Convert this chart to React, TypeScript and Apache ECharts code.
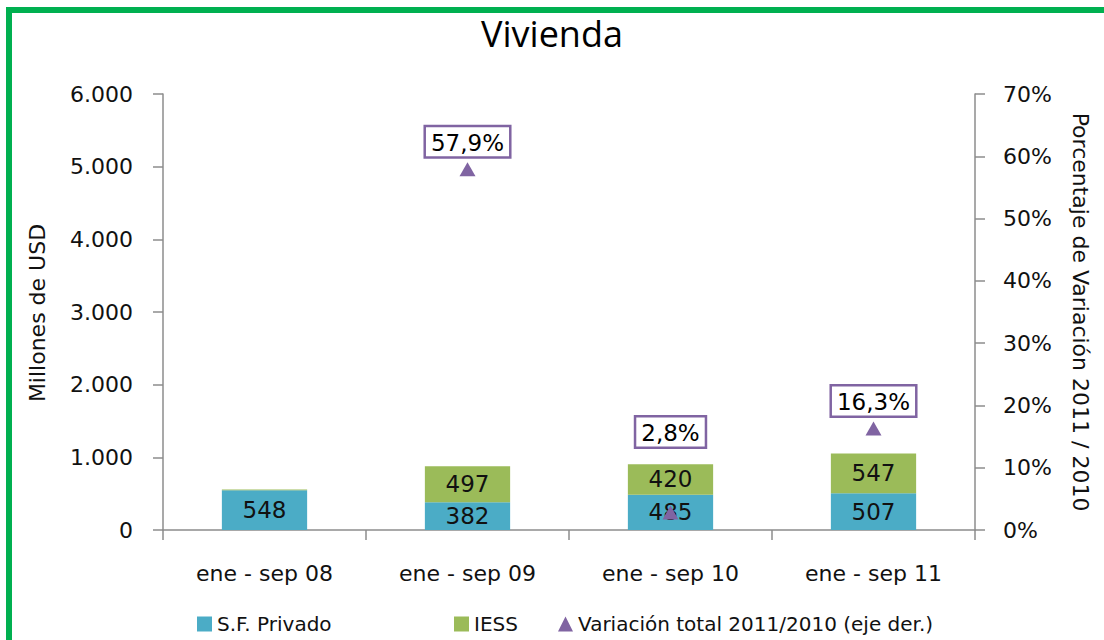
import React, { useEffect, useRef } from "react";
import * as echarts from "echarts";

const categories = ["ene - sep 08", "ene - sep 09", "ene - sep 10", "ene - sep 11"];
const sfPrivado = [548, 382, 485, 507];
const iess = [8, 497, 420, 547];
const variacion = [null, 57.9, 2.8, 16.3];
const leftTicks = { min: 0, max: 6000, interval: 1000 };
const rightTicks = { min: 0, max: 70, interval: 10 };

const BLUE = "#4BACC6";
const GREEN = "#9BBB59";
const PURPLE = "#8064A2";
const AXIS = "#8c8c8c";
const FONT = "DejaVu Sans";

const fmtThousands = (v: number) => String(Math.round(v)).replace(/\B(?=(\d{3})+(?!\d))/g, ".");
const fmtPct = (v: number) => v.toFixed(1).replace(".", ",") + "%";

export default function App() {
  const ref = useRef<HTMLDivElement>(null);
  useEffect(() => {
    document.body.style.margin = "0";
    const chart = echarts.init(ref.current!, null, { renderer: "svg" });
    const legendBase = {
      top: 609,
      itemWidth: 15,
      itemHeight: 15,
      itemGap: 10,
      textStyle: { fontFamily: FONT, fontSize: 20, color: "#111" },
    };
    chart.setOption({
      animation: false,
      backgroundColor: "#fff",
      title: {
        text: "Vivienda",
        left: "center",
        top: 10,
        textStyle: { fontFamily: "Open Sans", fontSize: 36, fontWeight: "normal", color: "#000" },
      },
      legend: [
        { ...legendBase, left: 192, data: [{ name: "S.F. Privado", icon: "rect" }] },
        { ...legendBase, left: 449, data: [{ name: "IESS", icon: "rect" }] },
        { ...legendBase, left: 553, data: [{ name: "Variación total 2011/2010 (eje der.)", icon: "triangle" }] },
      ],
      grid: { left: 163, right: 129, top: 94, bottom: 110 },
      xAxis: {
        type: "category",
        data: categories,
        boundaryGap: true,
        axisLine: { lineStyle: { color: AXIS, width: 1.5 } },
        axisTick: { show: true, length: 10, lineStyle: { color: AXIS, width: 1.5 } },
        axisLabel: { fontFamily: FONT, fontSize: 22, color: "#111", margin: 32 },
      },
      yAxis: [
        {
          type: "value",
          ...leftTicks,
          position: "left",
          splitLine: { show: false },
          axisLine: { show: true, lineStyle: { color: AXIS, width: 1.5 } },
          axisTick: { show: true, length: 10, lineStyle: { color: AXIS, width: 1.5 } },
          axisLabel: { fontFamily: FONT, fontSize: 22, color: "#111", margin: 30, formatter: fmtThousands },
        },
        {
          type: "value",
          ...rightTicks,
          position: "right",
          splitLine: { show: false },
          axisLine: { show: true, lineStyle: { color: AXIS, width: 1.5 } },
          axisTick: { show: true, length: 10, lineStyle: { color: AXIS, width: 1.5 } },
          axisLabel: { fontFamily: FONT, fontSize: 22, color: "#111", margin: 28, formatter: (v: number) => v + "%" },
        },
      ],
      series: [
        {
          name: "S.F. Privado",
          type: "bar",
          stack: "total",
          barWidth: "42%",
          itemStyle: { color: BLUE },
          label: { show: true, position: "inside", fontFamily: FONT, fontSize: 23, color: "#111" },
          data: sfPrivado,
        },
        {
          name: "IESS",
          type: "bar",
          stack: "total",
          barWidth: "42%",
          itemStyle: { color: GREEN },
          label: { show: true, position: "inside", fontFamily: FONT, fontSize: 23, color: "#111" },
          data: iess.map((v) => (v < 50 ? { value: v, label: { show: false } } : v)),
        },
        {
          name: "Variación total 2011/2010 (eje der.)",
          type: "scatter",
          yAxisIndex: 1,
          symbol: "triangle",
          symbolSize: [16, 14],
          itemStyle: { color: PURPLE, opacity: 1 },
          z: 5,
          label: {
            show: true,
            position: "top",
            distance: 6,
            fontFamily: FONT,
            fontSize: 23,
            color: "#000",
            opacity: 1,
            backgroundColor: "#fff",
            borderColor: PURPLE,
            borderWidth: 2.5,
            padding: [4, 5, 2, 5],
            formatter: (p: any) => fmtPct(p.value),
          },
          data: variacion.map((v) => (v !== null && v < 5 ? { value: v, label: { distance: 59 } } : v)),
        },
      ],
      graphic: [
        { type: "rect", shape: { x: 6, y: 7, width: 1098, height: 6 }, style: { fill: "#00B050" }, silent: true },
        { type: "rect", shape: { x: 6, y: 7, width: 6, height: 633 }, style: { fill: "#00B050" }, silent: true },
        {
          type: "text",
          x: 37,
          y: 313,
          rotation: Math.PI / 2,
          style: {
            text: "Millones de USD",
            fontFamily: FONT,
            fontSize: 22,
            fill: "#111",
            align: "center",
            verticalAlign: "middle",
          },
        },
        {
          type: "text",
          x: 1080,
          y: 312,
          rotation: -Math.PI / 2,
          style: {
            text: "Porcentaje de Variación 2011 / 2010",
            fontFamily: FONT,
            fontSize: 22,
            fill: "#111",
            align: "center",
            verticalAlign: "middle",
          },
        },
      ],
    });
    return () => chart.dispose();
  }, []);
  return <div ref={ref} style={{ width: 1104, height: 640 }} />;
}
